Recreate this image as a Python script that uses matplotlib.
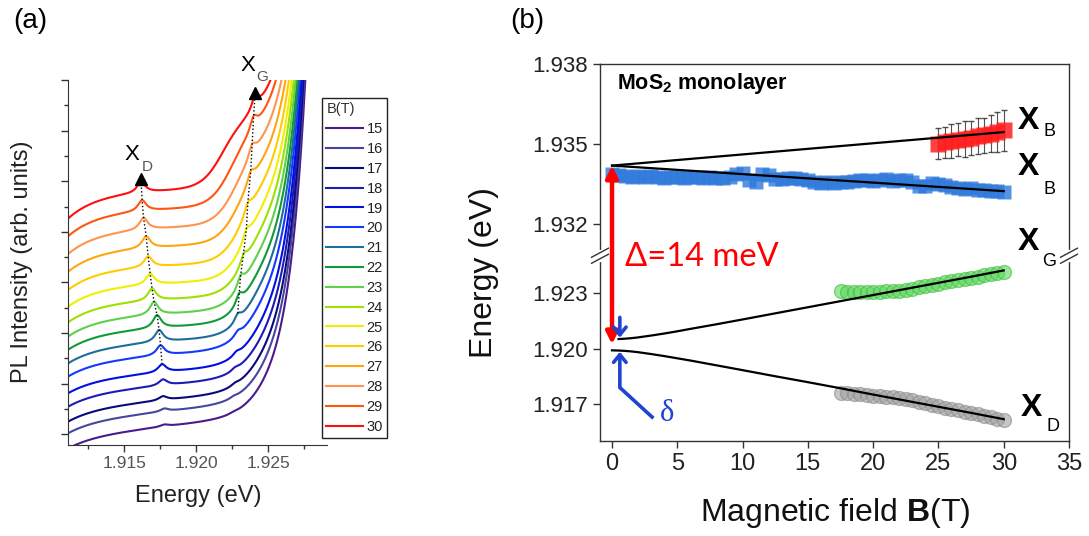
import numpy as np
import matplotlib
matplotlib.use("Agg")
import matplotlib.pyplot as plt
from matplotlib.ticker import FixedLocator, MultipleLocator, NullLocator, NullFormatter, FormatStrFormatter

plt.rcParams["font.family"] = ["Liberation Sans", "DejaVu Sans"]
plt.rcParams["mathtext.fontset"] = "custom"
plt.rcParams["mathtext.rm"] = "Liberation Sans"
plt.rcParams["mathtext.bf"] = "Liberation Sans:bold"

# ---------------- panel (a): PL spectra, 15 T ... 30 T ----------------
FIELDS = [15, 16, 17, 18, 19, 20, 21, 22, 23, 24, 25, 26, 27, 28, 29, 30]
COLORS = ["#4b1a8c", "#46469e", "#0a0a80", "#1c1cb4", "#0010e0", "#1438ff",
          "#1f6d9c", "#109a3a", "#5ed04a", "#9ee000", "#eef000", "#ffcc00",
          "#ffa510", "#ff9450", "#ff5510", "#ff1010"]
# vertical offset of each trace (arb. units)
OFFSET = [-0.28, 0.02, 0.25, 0.545, 0.81, 1.14, 1.40, 1.67, 1.93, 2.21,
          2.52, 2.85, 3.21, 3.56, 3.91, 4.26]
PLATEAU = [0.24, 0.25, 0.26, 0.27, 0.28, 0.30, 0.32, 0.34, 0.36, 0.38,
           0.40, 0.42, 0.44, 0.46, 0.48, 0.50]
SLOPE = [0.30, 0.28, 0.26, 0.24, 0.22, 0.20, 0.18, 0.16, 0.14, 0.12,
         0.10, 0.10, 0.10, 0.10, 0.10, 0.10]
XD_POS = [1.9178, 1.9178, 1.9177, 1.9177, 1.91764, 1.91753, 1.91743, 1.91729,
          1.91708, 1.91694, 1.91681, 1.91667, 1.91653, 1.91635, 1.91625, 1.91618]
XD_AMP = [0.04, 0.06, 0.08, 0.12, 0.16, 0.20, 0.24, 0.26, 0.26, 0.24,
          0.22, 0.22, 0.24, 0.24, 0.22, 0.22]
XG_POS = [1.9226, 1.9226, 1.9227, 1.9227, 1.9228, 1.9229, 1.9229, 1.9230,
          1.9231, 1.9233, 1.9235, 1.9236, 1.9238, 1.9239, 1.9240, 1.9241]
XG_AMP = [0.02, 0.03, 0.04, 0.05, 0.07, 0.10, 0.16, 0.22, 0.22, 0.20,
          0.20, 0.20, 0.22, 0.24, 0.26, 0.26]
# step-like rise below the X_G line
STEP_E = [1.9241, 1.9241, 1.9240, 1.9240, 1.9239, 1.9238, 1.9237, 1.9236,
          1.9235, 1.9234, 1.9233, 1.9231, 1.9229, 1.9227, 1.9224, 1.9218]
STEP_W = [0.0008, 0.0008, 0.0008, 0.0008, 0.0008, 0.0008, 0.0007, 0.0007,
          0.0007, 0.0007, 0.0007, 0.0007, 0.0007, 0.0007, 0.0007, 0.0007]
STEP_AMP = [0.24, 0.32, 0.40, 0.47, 0.55, 0.63, 0.71, 0.79, 0.89, 0.99,
            1.07, 1.14, 1.20, 1.25, 1.32, 1.25]
EDGE_AMP, EDGE_E, EDGE_W = 1.98, 1.9262, 0.0012
E_LEFT, E_RIGHT = 1.9111, 1.9291

# ---------------- panel (b): peak energies vs field ----------------
B_BLUE = np.arange(0, 30.01, 0.5)
E_BLUE = [1.93385, 1.93383, 1.93378, 1.93375, 1.93378, 1.93376, 1.93380, 1.93377, 1.93372, 1.93376,
          1.93375, 1.93373, 1.93376, 1.93374, 1.93372, 1.93375, 1.93373, 1.93371, 1.93376, 1.93386,
          1.93390, 1.93362, 1.93358, 1.93386, 1.93382, 1.93368, 1.93366, 1.93370, 1.93372, 1.93366,
          1.93364, 1.93358, 1.93354, 1.93356, 1.93352, 1.93356, 1.93355, 1.93360, 1.93364, 1.93362,
          1.93360, 1.93363, 1.93366, 1.93360, 1.93362, 1.93364, 1.93358, 1.93342, 1.93340, 1.93352,
          1.93350, 1.93346, 1.93338, 1.93334, 1.93330, 1.93332, 1.93328, 1.93326, 1.93324, 1.93322, 1.93320]
B_RED = np.arange(25, 30.01, 0.5)
E_RED = [1.93500, 1.93505, 1.93512, 1.93515, 1.93518, 1.93522, 1.93528, 1.93532, 1.93538, 1.93545, 1.93550]
ERR_RED = [0.00058, 0.00060, 0.00064, 0.00062, 0.00066, 0.00064, 0.00068, 0.00066, 0.00070, 0.00076, 0.00078]
B_HI = np.arange(17.5, 30.01, 0.5)
E_GREEN = [1.92311, 1.92308, 1.92306, 1.92305, 1.92307, 1.92306, 1.92304, 1.92309, 1.92312, 1.92311,
           1.92318, 1.92322, 1.92330, 1.92338, 1.92344, 1.92350, 1.92358, 1.92365, 1.92370, 1.92376,
           1.92383, 1.92389, 1.92395, 1.92401, 1.92408, 1.92414]
E_GRAY = [1.91762, 1.91758, 1.91756, 1.91752, 1.91748, 1.91744, 1.91742, 1.91740, 1.91738, 1.91735,
          1.91728, 1.91720, 1.91712, 1.91704, 1.91696, 1.91688, 1.91680, 1.91672, 1.91665, 1.91658,
          1.91652, 1.91645, 1.91637, 1.91629, 1.91621, 1.91614]
FIT_B = [0, 0.5, 1, 1.5, 2, 3, 4, 5, 6, 8, 10, 12.5, 15, 17.5, 20, 22.5, 25, 27.5, 30]
FIT_G = [1.92050, 1.92051, 1.92053, 1.92056, 1.92060, 1.92070, 1.92081, 1.92093, 1.92106, 1.92131,
         1.92157, 1.92190, 1.92223, 1.92256, 1.92289, 1.92322, 1.92355, 1.92388, 1.92422]
FIT_D = [1.91990, 1.91989, 1.91987, 1.91984, 1.91980, 1.91970, 1.91959, 1.91947, 1.91935, 1.91909,
         1.91883, 1.91850, 1.91818, 1.91785, 1.91751, 1.91718, 1.91685, 1.91652, 1.91618]
FIT_XB_B = [0, 30]
FIT_XB_UP = [1.93418, 1.93544]
FIT_XB_DN = [1.93418, 1.93322]
B_YTICKS = [1.917, 1.920, 1.923, 1.932, 1.935, 1.938]

# broken energy axis: lower part 1.915-1.925, upper part 1.9308-1.938
Y_KNOTS = [1.915, 1.925, 1.9308, 1.938]
Y_POS = [0.0, 185.0, 185.5, 377.0]


def fwd(v):
    return np.interp(v, Y_KNOTS, Y_POS)


def inv(v):
    return np.interp(v, Y_POS, Y_KNOTS)


def spectrum(i, e):
    base = PLATEAU[i] * (1 - np.exp(-(e - E_LEFT) / 0.002)) + SLOPE[i] * (e - E_LEFT) / 0.01
    xd = XD_AMP[i] / (1 + ((e - XD_POS[i]) / 0.00035) ** 2)
    xg = XG_AMP[i] / (1 + ((e - XG_POS[i]) / 0.0003) ** 2)
    step = STEP_AMP[i] / (1 + np.exp(-(e - STEP_E[i]) / STEP_W[i]))
    edge = EDGE_AMP * np.exp((e - EDGE_E) / EDGE_W)
    return OFFSET[i] + base + xd + xg + step + edge


W, H = 1089, 536
fig = plt.figure(figsize=(W / 100, H / 100), dpi=100)

# ================= (a) =================
axa = fig.add_axes([68 / W, 1 - 445 / H, (327 - 68) / W, (445 - 80) / H])
energy = np.linspace(E_LEFT, E_RIGHT, 1500)
handles = []
for i, b in enumerate(FIELDS):
    ln, = axa.plot(energy, spectrum(i, energy), color=COLORS[i], lw=1.5, label=str(b))
    handles.append(ln)

# dotted guides through the peak positions
idx_d = [i for i, b in enumerate(FIELDS) if b >= 19]
axa.plot([XD_POS[i] for i in idx_d], [spectrum(i, XD_POS[i]) for i in idx_d],
         ls=":", color="black", lw=1)
idx_g = [i for i, b in enumerate(FIELDS) if b >= 21]
axa.plot([XG_POS[i] for i in idx_g], [spectrum(i, XG_POS[i]) for i in idx_g],
         ls=":", color="black", lw=1)
axa.plot([XD_POS[-1]], [spectrum(15, XD_POS[-1]) + 0.05], marker="^", color="black", ms=9)
axa.plot([XG_POS[-1]], [spectrum(15, XG_POS[-1]) + 0.05], marker="^", color="black", ms=9)

axa.text(1.91556, 5.52, "X", fontsize=16, ha="center", va="center")
axa.text(1.91660, 5.28, "D", fontsize=11, color="#555555", ha="center", va="center")
axa.text(1.92361, 7.28, "X", fontsize=16, ha="center", va="center")
axa.text(1.92458, 7.06, "G", fontsize=11, color="#555555", ha="center", va="center")

axa.set_xlim(E_LEFT, E_RIGHT)
axa.set_ylim(-0.2115, 7.0)
axa.xaxis.set_major_locator(FixedLocator([1.915, 1.920, 1.925]))
axa.xaxis.set_minor_locator(FixedLocator([1.9125, 1.9175, 1.9225, 1.9275]))
axa.xaxis.set_major_formatter(FormatStrFormatter("%.3f"))
axa.yaxis.set_major_locator(MultipleLocator(1))
axa.yaxis.set_minor_locator(MultipleLocator(0.5))
axa.yaxis.set_major_formatter(NullFormatter())
for s in ["top", "right"]:
    axa.spines[s].set_visible(False)
for s in ["left", "bottom"]:
    axa.spines[s].set_color("#333333")
axa.tick_params(which="major", length=5, width=1, color="#333333", labelsize=12.5,
                labelcolor="#555555", pad=3)
axa.tick_params(which="minor", length=3, width=1, color="#333333")
fig.text(198 / W, 1 - 496 / H, "Energy (eV)", fontsize=17, color="#222222",
         ha="center", va="center")
fig.text(22 / W, 1 - 262 / H, "PL Intensity (arb. units)", rotation=90, fontsize=17,
         color="#222222", ha="center", va="center")

leg = fig.legend(handles=handles, loc="upper left", bbox_to_anchor=(322 / W, 1 - 98 / H),
                 borderaxespad=0, title="B(T)", title_fontsize=10.5, fontsize=10.5,
                 alignment="left", handlelength=2.5, handletextpad=0.25, borderpad=0.3,
                 labelspacing=0.40, fancybox=False, framealpha=1)
leg.get_frame().set_edgecolor("#222222")
leg.get_frame().set_linewidth(1)
for t in leg.get_texts():
    t.set_color("#222222")
leg.get_title().set_color("#333333")

fig.text(30 / W, 1 - 21 / H, "(a)", fontsize=20, ha="center", va="center")
fig.text(527 / W, 1 - 21 / H, "(b)", fontsize=20, ha="center", va="center")

# ================= (b) =================
axb = fig.add_axes([600 / W, 1 - 441 / H, (1069 - 600) / W, (441 - 64) / H])
axb.set_yscale("function", functions=(fwd, inv))

axb.plot(B_BLUE, E_BLUE, ls="none", marker="s", ms=10.5, color="#2d78dc", alpha=0.8, mec="none", zorder=2)
axb.errorbar(B_RED, E_RED, yerr=ERR_RED, ls="none", marker="s", ms=12, color="#ff2020",
             mec="none", alpha=0.85, ecolor="#333333", elinewidth=0.8, capsize=2.5, zorder=2)
axb.plot(B_HI, E_GREEN, ls="none", marker="o", ms=10, mfc="#5cd65c", mec="#3cbf3c", alpha=0.6, zorder=2)
axb.plot(B_HI, E_GRAY, ls="none", marker="o", ms=10, mfc="#a0a0a0", mec="#8a8a8a", alpha=0.6, zorder=2)

for ys in (FIT_XB_UP, FIT_XB_DN):
    axb.plot(FIT_XB_B, ys, color="black", lw=1.6, zorder=3)
axb.plot(FIT_B[1:], FIT_G[1:], color="black", lw=1.6, zorder=3)
axb.plot(FIT_B, FIT_D, color="black", lw=1.6, zorder=3)

# splitting arrows
axb.annotate("", xy=(0, 1.92023), xytext=(0, 1.93418),
             arrowprops=dict(arrowstyle="<|-|>,head_length=0.7,head_width=0.35", color="red",
                             lw=3.2, shrinkA=0, shrinkB=0), zorder=5)
blue = "#1f45d0"
axb.annotate("", xy=(0.6, 1.92059), xytext=(0.6, 1.92168),
             arrowprops=dict(arrowstyle="->,head_length=0.55,head_width=0.45", color=blue,
                             lw=2.6, shrinkA=0, shrinkB=0), zorder=5)
axb.annotate("", xy=(0.6, 1.91982), xytext=(0.6, 1.91789),
             arrowprops=dict(arrowstyle="->,head_length=0.55,head_width=0.45", color=blue,
                             lw=2.6, shrinkA=0, shrinkB=0), zorder=5)
axb.plot([0.6, 3.17], [1.91789, 1.91623], color=blue, lw=2.6, solid_capstyle="butt", zorder=5)
axb.text(4.2, 1.91646, "δ", color=blue, fontsize=22, family=["Liberation Serif", "DejaVu Serif"],
         ha="center", va="center")
axb.text(25 / 469, 0.488, "Δ=14 meV", color="red", fontsize=23.5, family=["Lato", "DejaVu Sans"],
         transform=axb.transAxes, ha="left", va="center")
axb.text(0.4, 1.93726, r"MoS$_\mathbf{2}$ monolayer", fontsize=15.5, fontweight="bold",
         ha="left", va="center")

for xx, yx, xs, ys, sub in [(31.9, 1.93587, 33.5, 1.93546, "B"),
                            (31.9, 1.93411, 33.5, 1.93329, "B"),
                            (31.9, 1.93129, 33.5, 1.92468, "G"),
                            (32.1, 1.91678, 33.8, 1.91581, "D")]:
    axb.text(xx, yx, "X", fontsize=23, fontweight="bold", ha="center", va="center")
    axb.text(xs, ys, sub, fontsize=13, ha="center", va="center")

axb.set_xlim(-0.92, 35)
axb.set_ylim(1.915, 1.938)
axb.xaxis.set_major_locator(MultipleLocator(5))
axb.yaxis.set_major_locator(FixedLocator(B_YTICKS))
axb.yaxis.set_minor_locator(NullLocator())
axb.yaxis.set_major_formatter(FormatStrFormatter("%.3f"))
for s in axb.spines.values():
    s.set_color("#333333")
    s.set_linewidth(1)
axb.tick_params(length=5, width=1, color="#333333", labelsize=16, labelcolor="#222222", pad=4)
axb.tick_params(axis="x", labelsize=17)

# axis-break marks
yb = 185.25 / 377
for xb in (0, 1):
    axb.plot([xb, xb], [yb - 0.01, yb + 0.01], transform=axb.transAxes, color="white",
             lw=3, clip_on=False, zorder=6)
    for dy in (-0.008, 0.008):
        axb.plot([xb - 0.018, xb + 0.018], [yb + dy - 0.012, yb + dy + 0.012],
                 transform=axb.transAxes, color="#333333", lw=1, clip_on=False, zorder=7)

fig.text(484 / W, 1 - 273 / H, "Energy (eV)", rotation=90, fontsize=23, color="#111111",
         ha="center", va="center")
fig.text(835 / W, 1 - 513 / H, r"Magnetic field $\mathbf{B}$(T)", fontsize=23, color="#111111",
         ha="center", va="center")

fig.savefig("out.png", dpi=100, facecolor="white")
